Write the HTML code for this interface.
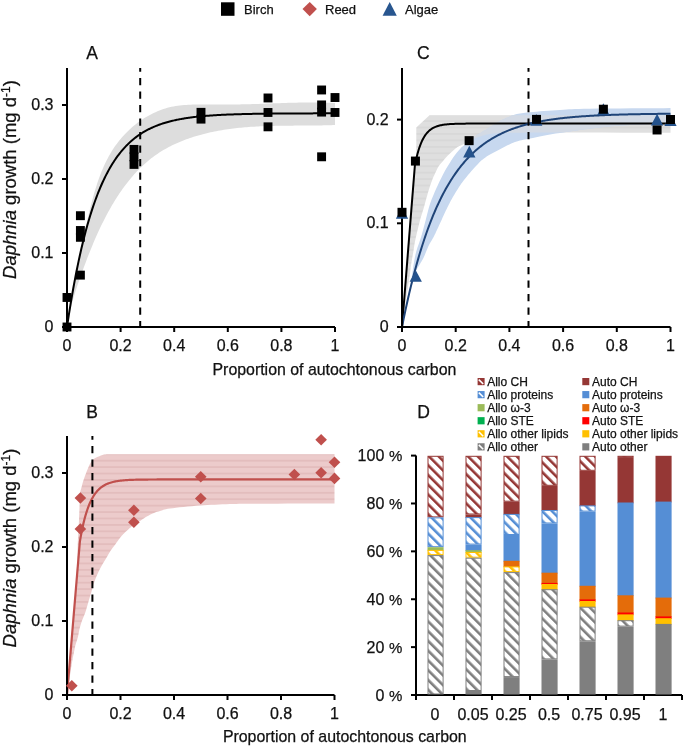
<!DOCTYPE html>
<html><head><meta charset="utf-8"><style>
html,body{margin:0;padding:0;background:#fff;}
svg{display:block;will-change:transform;}
text{font-family:"Liberation Sans", sans-serif;fill:#000;stroke:#111;stroke-width:0.25px;}
.tk{font-size:16px;fill:#111;}
.tkp{font-size:16px;fill:#111;}
.lg{font-size:13px;fill:#111;}
.lgd{font-size:12px;fill:#111;}
.pl{font-size:17.5px;fill:#111;}
.xt{font-size:15.9px;fill:#111;}
.yt{font-size:18.5px;fill:#111;}
</style></head><body>
<svg width="685" height="747" viewBox="0 0 685 747">
<defs>
<pattern id="hstripeG" patternUnits="userSpaceOnUse" width="10" height="6.45" y="4.95"><rect width="10" height="6.45" fill="#DFDFDF"/><rect y="-0.5" width="10" height="1" fill="#D3D3D3"/><rect y="5.95" width="10" height="1" fill="#D3D3D3"/></pattern>
<pattern id="hstripeR" patternUnits="userSpaceOnUse" width="10" height="6.42" y="4.88"><rect width="10" height="6.42" fill="#ECCBCB"/><rect y="-0.5" width="10" height="1" fill="#DDB2B2"/><rect y="5.92" width="10" height="1" fill="#DDB2B2"/></pattern>
<pattern id="hatchCH" patternUnits="userSpaceOnUse" width="6.9" height="6.9" patternTransform="rotate(-45)"><rect width="6.9" height="6.9" fill="#fff"/><rect width="2.6" height="6.9" fill="#953735"/></pattern>
<pattern id="hatchPR" patternUnits="userSpaceOnUse" width="6.9" height="6.9" patternTransform="rotate(-45)"><rect width="6.9" height="6.9" fill="#fff"/><rect width="2.6" height="6.9" fill="#558ED5"/></pattern>
<pattern id="hatchOL" patternUnits="userSpaceOnUse" width="6.9" height="6.9" patternTransform="rotate(-45)"><rect width="6.9" height="6.9" fill="#fff"/><rect width="2.6" height="6.9" fill="#FFC000"/></pattern>
<pattern id="hatchOT" patternUnits="userSpaceOnUse" width="6.9" height="6.9" patternTransform="rotate(-45)"><rect width="6.9" height="6.9" fill="#fff"/><rect width="2.6" height="6.9" fill="#7F7F7F"/></pattern>
</defs>
<rect width="685" height="747" fill="#fff"/>
<rect x="221" y="2.3" width="13.5" height="13.5" fill="#000"/>
<text x="244" y="13.8" class="lg">Birch</text>
<path d="M309.7,1.9 L316.9,9.1 L309.7,16.3 L302.5,9.1Z" fill="#C0504D"/>
<text x="325" y="13.8" class="lg">Reed</text>
<path d="M389.7,2.1 L396.8,15.8 L382.6,15.8Z" fill="#28568F"/>
<text x="405" y="13.8" class="lg">Algae</text>
<path d="M67,327 L67.3,324.87 L67.6,322.74 L67.9,320.62 L68.21,318.5 L68.52,316.38 L68.84,314.26 L69.16,312.15 L69.48,310.05 L69.81,307.94 L70.14,305.84 L70.48,303.74 L70.82,301.64 L71.16,299.55 L71.51,297.46 L71.86,295.37 L72.21,293.29 L72.57,291.2 L72.94,289.12 L73.3,287.04 L73.68,284.96 L74.05,282.89 L74.43,280.81 L74.81,278.74 L75.2,276.67 L75.59,274.6 L75.99,272.53 L76.39,270.46 L76.79,268.39 L77.2,266.33 L77.61,264.26 L78.02,262.2 L78.44,260.13 L78.86,258.07 L79.29,256.01 L79.72,253.94 L80.15,251.88 L80.59,249.82 L81.03,247.75 L81.48,245.69 L81.93,243.63 L82.38,241.56 L82.84,239.5 L83.3,237.43 L83.76,235.36 L84.23,233.3 L84.7,231.23 L85.18,229.16 L85.66,227.09 L86.14,225.02 L86.63,222.94 L87.12,220.87 L87.61,218.79 L88.11,216.71 L88.62,214.63 L89.12,212.55 L89.63,210.47 L90.15,208.38 L90.68,206.3 L91.21,204.22 L91.75,202.14 L92.3,200.06 L92.86,197.98 L93.43,195.91 L94.02,193.84 L94.62,191.78 L95.23,189.72 L95.86,187.67 L96.5,185.63 L97.17,183.6 L97.85,181.57 L98.55,179.55 L99.26,177.54 L100.01,175.55 L100.77,173.56 L101.55,171.59 L102.36,169.63 L103.2,167.68 L104.06,165.75 L104.94,163.83 L105.86,161.93 L106.8,160.04 L107.77,158.17 L108.77,156.32 L109.81,154.48 L110.87,152.67 L111.97,150.87 L113.1,149.1 L114.27,147.34 L115.48,145.61 L116.72,143.9 L117.99,142.22 L119.3,140.55 L120.64,138.92 L122.02,137.31 L123.43,135.72 L124.87,134.17 L126.34,132.65 L127.84,131.15 L129.38,129.69 L130.94,128.26 L132.53,126.86 L134.15,125.49 L135.79,124.16 L137.47,122.87 L139.17,121.61 L140.89,120.4 L142.64,119.22 L144.42,118.08 L146.21,116.98 L148.04,115.92 L149.88,114.9 L151.75,113.93 L153.63,113.01 L155.54,112.13 L157.47,111.29 L159.42,110.5 L161.39,109.77 L163.37,109.08 L165.38,108.44 L167.4,107.85 L169.43,107.31 L171.49,106.83 L173.55,106.4 L175.64,106.03 L177.73,105.71 L179.84,105.44 L181.96,105.21 L184.09,105.03 L186.22,104.88 L188.36,104.77 L190.51,104.68 L192.66,104.62 L194.81,104.57 L196.97,104.54 L199.12,104.52 L201.27,104.51 L203.42,104.51 L205.56,104.5 L207.7,104.5 L209.84,104.51 L211.98,104.51 L214.11,104.52 L216.25,104.52 L218.38,104.53 L220.5,104.53 L222.63,104.53 L224.76,104.53 L226.88,104.53 L229,104.52 L231.12,104.51 L233.24,104.49 L235.36,104.47 L237.48,104.44 L239.6,104.41 L241.72,104.37 L243.83,104.32 L245.95,104.27 L248.06,104.22 L250.18,104.16 L252.29,104.1 L254.41,104.04 L256.52,103.97 L258.63,103.9 L260.75,103.82 L262.86,103.75 L264.97,103.67 L267.09,103.6 L269.2,103.52 L271.31,103.44 L273.43,103.37 L275.54,103.29 L277.65,103.22 L279.77,103.14 L281.88,103.07 L283.99,103 L286.11,102.93 L288.22,102.87 L290.34,102.81 L292.46,102.75 L294.57,102.7 L296.69,102.65 L298.81,102.61 L300.93,102.57 L303.05,102.54 L305.17,102.51 L307.29,102.49 L309.42,102.48 L311.54,102.47 L313.67,102.47 L315.79,102.48 L317.92,102.5 L320.05,102.53 L322.18,102.57 L324.32,102.61 L326.45,102.67 L328.58,102.73 L330.72,102.81 L332.86,102.9 L335,103 L335,125 L333.07,125.07 L331.13,125.14 L329.2,125.2 L327.27,125.25 L325.34,125.3 L323.41,125.34 L321.49,125.38 L319.56,125.42 L317.63,125.45 L315.71,125.47 L313.78,125.49 L311.86,125.51 L309.94,125.53 L308.02,125.55 L306.1,125.56 L304.17,125.57 L302.26,125.58 L300.34,125.59 L298.42,125.6 L296.5,125.61 L294.58,125.62 L292.67,125.63 L290.75,125.64 L288.83,125.66 L286.92,125.67 L285.01,125.69 L283.09,125.71 L281.18,125.74 L279.26,125.77 L277.35,125.8 L275.44,125.83 L273.53,125.88 L271.62,125.92 L269.71,125.97 L267.79,126.03 L265.88,126.09 L263.97,126.16 L262.06,126.24 L260.15,126.33 L258.25,126.42 L256.34,126.52 L254.43,126.63 L252.52,126.75 L250.61,126.87 L248.7,127.01 L246.79,127.16 L244.88,127.32 L242.97,127.48 L241.07,127.66 L239.16,127.85 L237.25,128.06 L235.34,128.27 L233.43,128.5 L231.52,128.74 L229.62,129 L227.71,129.27 L225.8,129.55 L223.89,129.85 L221.98,130.16 L220.07,130.49 L218.16,130.83 L216.26,131.19 L214.35,131.57 L212.45,131.96 L210.55,132.37 L208.65,132.79 L206.76,133.24 L204.87,133.7 L202.99,134.18 L201.11,134.67 L199.24,135.19 L197.37,135.73 L195.51,136.28 L193.66,136.85 L191.81,137.45 L189.98,138.06 L188.15,138.69 L186.34,139.34 L184.53,140.02 L182.73,140.71 L180.95,141.43 L179.17,142.17 L177.41,142.93 L175.66,143.71 L173.93,144.52 L172.21,145.35 L170.5,146.2 L168.8,147.08 L167.13,147.97 L165.46,148.9 L163.82,149.84 L162.19,150.82 L160.57,151.81 L158.98,152.83 L157.4,153.88 L155.84,154.95 L154.31,156.05 L152.79,157.18 L151.28,158.33 L149.8,159.5 L148.34,160.7 L146.89,161.92 L145.46,163.16 L144.05,164.42 L142.66,165.71 L141.29,167.02 L139.93,168.35 L138.59,169.7 L137.27,171.06 L135.96,172.45 L134.67,173.86 L133.4,175.28 L132.14,176.72 L130.9,178.18 L129.68,179.66 L128.47,181.15 L127.28,182.66 L126.1,184.18 L124.94,185.72 L123.8,187.27 L122.67,188.83 L121.55,190.41 L120.45,192 L119.36,193.6 L118.29,195.21 L117.23,196.83 L116.18,198.46 L115.15,200.11 L114.14,201.76 L113.13,203.42 L112.14,205.09 L111.17,206.77 L110.2,208.45 L109.25,210.14 L108.31,211.84 L107.39,213.55 L106.48,215.25 L105.57,216.97 L104.69,218.68 L103.81,220.41 L102.94,222.13 L102.09,223.86 L101.24,225.59 L100.41,227.33 L99.59,229.07 L98.77,230.82 L97.97,232.56 L97.18,234.31 L96.39,236.07 L95.62,237.83 L94.85,239.59 L94.1,241.35 L93.35,243.12 L92.61,244.89 L91.87,246.66 L91.15,248.43 L90.43,250.21 L89.72,251.99 L89.01,253.77 L88.31,255.55 L87.62,257.34 L86.93,259.12 L86.25,260.91 L85.58,262.7 L84.91,264.5 L84.24,266.29 L83.58,268.08 L82.93,269.88 L82.27,271.68 L81.63,273.48 L80.98,275.28 L80.34,277.08 L79.71,278.88 L79.08,280.68 L78.45,282.49 L77.84,284.29 L77.23,286.1 L76.63,287.92 L76.03,289.73 L75.45,291.55 L74.88,293.37 L74.32,295.2 L73.77,297.03 L73.23,298.86 L72.7,300.7 L72.19,302.54 L71.69,304.39 L71.2,306.24 L70.73,308.1 L70.28,309.96 L69.84,311.83 L69.42,313.7 L69.01,315.58 L68.63,317.46 L68.26,319.36 L67.91,321.26 L67.59,323.16 L67.28,325.08 L67,327Z" fill="#DDDDDD"/>
<path d="M67,327 L67,327 L67.89,321.02 L68.79,315.21 L69.68,309.57 L70.57,304.08 L71.47,298.74 L72.36,293.55 L73.25,288.51 L74.15,283.61 L75.04,278.85 L75.93,274.22 L76.83,269.72 L77.72,265.34 L78.61,261.09 L79.51,256.95 L80.4,252.94 L81.29,249.03 L82.19,245.23 L83.08,241.54 L83.97,237.96 L84.87,234.47 L85.76,231.08 L86.65,227.79 L87.55,224.58 L88.44,221.47 L89.33,218.45 L90.23,215.5 L91.12,212.65 L92.01,209.87 L92.91,207.17 L93.8,204.54 L94.69,201.99 L95.59,199.51 L96.48,197.1 L97.37,194.75 L98.27,192.47 L99.16,190.26 L100.05,188.11 L100.95,186.01 L101.84,183.98 L102.73,182 L103.63,180.08 L104.52,178.21 L105.41,176.4 L106.31,174.63 L107.2,172.92 L108.09,171.25 L108.99,169.63 L109.88,168.05 L110.77,166.52 L111.67,165.03 L112.56,163.58 L113.45,162.18 L114.35,160.81 L115.24,159.48 L116.13,158.19 L117.03,156.93 L117.92,155.71 L118.81,154.53 L119.71,153.37 L120.6,152.25 L121.49,151.16 L122.39,150.1 L123.28,149.07 L124.17,148.07 L125.07,147.1 L125.96,146.15 L126.85,145.23 L127.75,144.34 L128.64,143.47 L129.53,142.63 L130.43,141.81 L131.32,141.01 L132.21,140.23 L133.11,139.48 L134,138.75 L134.89,138.04 L135.79,137.34 L136.68,136.67 L137.57,136.02 L138.47,135.38 L139.36,134.76 L140.25,134.16 L141.15,133.58 L142.04,133.01 L142.93,132.46 L143.83,131.92 L144.72,131.4 L145.61,130.9 L146.51,130.4 L147.4,129.93 L148.29,129.46 L149.19,129.01 L150.08,128.57 L150.97,128.14 L151.87,127.73 L152.76,127.32 L153.65,126.93 L154.55,126.55 L155.44,126.18 L156.33,125.82 L157.23,125.47 L158.12,125.12 L159.01,124.79 L159.91,124.47 L160.8,124.16 L161.69,123.86 L162.59,123.56 L163.48,123.27 L164.37,122.99 L165.27,122.72 L166.16,122.46 L167.05,122.2 L167.95,121.95 L168.84,121.71 L169.73,121.47 L170.63,121.25 L171.52,121.02 L172.41,120.81 L173.31,120.6 L174.2,120.39 L175.09,120.19 L175.99,120 L176.88,119.81 L177.77,119.63 L178.67,119.45 L179.56,119.28 L180.45,119.11 L181.35,118.95 L182.24,118.79 L183.13,118.64 L184.03,118.49 L184.92,118.34 L185.81,118.2 L186.71,118.06 L187.6,117.93 L188.49,117.8 L189.39,117.67 L190.28,117.55 L191.17,117.43 L192.07,117.32 L192.96,117.2 L193.85,117.09 L194.75,116.99 L195.64,116.88 L196.53,116.78 L197.43,116.69 L198.32,116.59 L199.21,116.5 L200.11,116.41 L201,116.32 L201.89,116.24 L202.79,116.15 L203.68,116.07 L204.57,116 L205.47,115.92 L206.36,115.85 L207.25,115.77 L208.15,115.71 L209.04,115.64 L209.93,115.57 L210.83,115.51 L211.72,115.45 L212.61,115.39 L213.51,115.33 L214.4,115.27 L215.29,115.21 L216.19,115.16 L217.08,115.11 L217.97,115.06 L218.87,115.01 L219.76,114.96 L220.65,114.91 L221.55,114.87 L222.44,114.82 L223.33,114.78 L224.23,114.74 L225.12,114.7 L226.01,114.66 L226.91,114.62 L227.8,114.58 L228.69,114.55 L229.59,114.51 L230.48,114.48 L231.37,114.44 L232.27,114.41 L233.16,114.38 L234.05,114.35 L234.95,114.32 L235.84,114.29 L236.73,114.26 L237.63,114.24 L238.52,114.21 L239.41,114.18 L240.31,114.16 L241.2,114.13 L242.09,114.11 L242.99,114.09 L243.88,114.07 L244.77,114.04 L245.67,114.02 L246.56,114 L247.45,113.98 L248.35,113.96 L249.24,113.94 L250.13,113.93 L251.03,113.91 L251.92,113.89 L252.81,113.87 L253.71,113.86 L254.6,113.84 L255.49,113.83 L256.39,113.81 L257.28,113.8 L258.17,113.78 L259.07,113.77 L259.96,113.75 L260.85,113.74 L261.75,113.73 L262.64,113.72 L263.53,113.7 L264.43,113.69 L265.32,113.68 L266.21,113.67 L267.11,113.66 L268,113.65 L268.89,113.64 L269.79,113.63 L270.68,113.62 L271.57,113.61 L272.47,113.6 L273.36,113.59 L274.25,113.58 L275.15,113.58 L276.04,113.57 L276.93,113.56 L277.83,113.55 L278.72,113.55 L279.61,113.54 L280.51,113.53 L281.4,113.52 L282.29,113.52 L283.19,113.51 L284.08,113.5 L284.97,113.5 L285.87,113.49 L286.76,113.49 L287.65,113.48 L288.55,113.48 L289.44,113.47 L290.33,113.47 L291.23,113.46 L292.12,113.46 L293.01,113.45 L293.91,113.45 L294.8,113.44 L295.69,113.44 L296.59,113.43 L297.48,113.43 L298.37,113.43 L299.27,113.42 L300.16,113.42 L301.05,113.41 L301.95,113.41 L302.84,113.41 L303.73,113.4 L304.63,113.4 L305.52,113.4 L306.41,113.39 L307.31,113.39 L308.2,113.39 L309.09,113.39 L309.99,113.38 L310.88,113.38 L311.77,113.38 L312.67,113.38 L313.56,113.37 L314.45,113.37 L315.35,113.37 L316.24,113.37 L317.13,113.36 L318.03,113.36 L318.92,113.36 L319.81,113.36 L320.71,113.36 L321.6,113.35 L322.49,113.35 L323.39,113.35 L324.28,113.35 L325.17,113.35 L326.07,113.35 L326.96,113.34 L327.85,113.34 L328.75,113.34 L329.64,113.34 L330.53,113.34 L331.43,113.34 L332.32,113.33 L333.21,113.33 L334.11,113.33 L335,113.33" fill="none" stroke="#000" stroke-width="2"/>
<line x1="140.2" y1="68" x2="140.2" y2="327" stroke="#000" stroke-width="2" stroke-dasharray="7.2 6.3" stroke-dashoffset="3.4"/>
<path d="M67,68 L67,327 L335,327" fill="none" stroke="#000" stroke-width="2"/>
<line x1="62" y1="327" x2="67" y2="327" stroke="#000" stroke-width="2"/>
<line x1="62" y1="253" x2="67" y2="253" stroke="#000" stroke-width="2"/>
<line x1="62" y1="179" x2="67" y2="179" stroke="#000" stroke-width="2"/>
<line x1="62" y1="105" x2="67" y2="105" stroke="#000" stroke-width="2"/>
<line x1="67" y1="327" x2="67" y2="332" stroke="#000" stroke-width="2"/>
<line x1="120.6" y1="327" x2="120.6" y2="332" stroke="#000" stroke-width="2"/>
<line x1="174.2" y1="327" x2="174.2" y2="332" stroke="#000" stroke-width="2"/>
<line x1="227.8" y1="327" x2="227.8" y2="332" stroke="#000" stroke-width="2"/>
<line x1="281.4" y1="327" x2="281.4" y2="332" stroke="#000" stroke-width="2"/>
<line x1="335" y1="327" x2="335" y2="332" stroke="#000" stroke-width="2"/>
<text x="53.5" y="331.9" text-anchor="end" class="tk">0</text>
<text x="53.5" y="257.9" text-anchor="end" class="tk">0.1</text>
<text x="53.5" y="183.9" text-anchor="end" class="tk">0.2</text>
<text x="53.5" y="109.9" text-anchor="end" class="tk">0.3</text>
<text x="67" y="351" text-anchor="middle" class="tk">0</text>
<text x="120.6" y="351" text-anchor="middle" class="tk">0.2</text>
<text x="174.2" y="351" text-anchor="middle" class="tk">0.4</text>
<text x="227.8" y="351" text-anchor="middle" class="tk">0.6</text>
<text x="281.4" y="351" text-anchor="middle" class="tk">0.8</text>
<text x="335" y="351" text-anchor="middle" class="tk">1</text>
<rect x="62.55" y="322.55" width="8.9" height="8.9" fill="#000"/>
<rect x="62.55" y="293.02" width="8.9" height="8.9" fill="#000"/>
<rect x="75.95" y="270.68" width="8.9" height="8.9" fill="#000"/>
<rect x="75.95" y="232.86" width="8.9" height="8.9" fill="#000"/>
<rect x="75.95" y="226.05" width="8.9" height="8.9" fill="#000"/>
<rect x="75.95" y="211.25" width="8.9" height="8.9" fill="#000"/>
<rect x="129.55" y="159.97" width="8.9" height="8.9" fill="#000"/>
<rect x="129.55" y="152.35" width="8.9" height="8.9" fill="#000"/>
<rect x="129.55" y="144.95" width="8.9" height="8.9" fill="#000"/>
<rect x="196.55" y="114.68" width="8.9" height="8.9" fill="#000"/>
<rect x="196.55" y="107.88" width="8.9" height="8.9" fill="#000"/>
<rect x="263.55" y="122.38" width="8.9" height="8.9" fill="#000"/>
<rect x="263.55" y="108.02" width="8.9" height="8.9" fill="#000"/>
<rect x="263.55" y="93.52" width="8.9" height="8.9" fill="#000"/>
<rect x="317.15" y="152.35" width="8.9" height="8.9" fill="#000"/>
<rect x="317.15" y="107.65" width="8.9" height="8.9" fill="#000"/>
<rect x="317.15" y="100.48" width="8.9" height="8.9" fill="#000"/>
<rect x="317.15" y="85.53" width="8.9" height="8.9" fill="#000"/>
<rect x="330.55" y="108.02" width="8.9" height="8.9" fill="#000"/>
<rect x="330.55" y="93.08" width="8.9" height="8.9" fill="#000"/>
<text x="92" y="58.6" text-anchor="middle" class="pl">A</text>
<path d="M401.5,327 L414.4,162.4 L416.3,160 L416.3,127.5 L429.5,115.3 L670.5,115.3 L670.5,132.7 L658.91,132.69 L642.66,132.67 L623.25,132.64 L602.12,132.61 L580.77,132.59 L560.65,132.58 L543.24,132.58 L530,132.6 L520.86,132.63 L514.38,132.67 L510,132.72 L507.16,132.78 L505.3,132.86 L503.86,132.95 L502.28,133.06 L500,133.2 L497.41,133.34 L495.2,133.48 L493.28,133.62 L491.56,133.79 L489.97,134 L488.4,134.26 L486.77,134.59 L485,135 L483.07,135.52 L481.06,136.15 L479.02,136.86 L477,137.61 L475.04,138.38 L473.19,139.14 L471.49,139.86 L470,140.5 L468.72,141.09 L467.63,141.65 L466.67,142.2 L465.84,142.72 L465.08,143.22 L464.38,143.68 L463.7,144.11 L463,144.5 L462.33,144.83 L461.72,145.09 L461.16,145.3 L460.64,145.49 L460.14,145.68 L459.65,145.88 L459.14,146.11 L458.6,146.4 L458.04,146.74 L457.48,147.11 L456.92,147.5 L456.35,147.92 L455.78,148.35 L455.22,148.79 L454.66,149.24 L454.1,149.7 L453.54,150.17 L452.98,150.66 L452.41,151.16 L451.85,151.67 L451.29,152.19 L450.75,152.7 L450.22,153.21 L449.7,153.7 L449.2,154.17 L448.72,154.63 L448.26,155.08 L447.8,155.53 L447.35,155.97 L446.9,156.43 L446.45,156.91 L446,157.4 L445.55,157.92 L445.1,158.45 L444.65,159 L444.2,159.56 L443.75,160.12 L443.3,160.68 L442.85,161.25 L442.4,161.8 L441.94,162.33 L441.48,162.83 L441.02,163.32 L440.56,163.81 L440.09,164.33 L439.63,164.89 L439.16,165.51 L438.7,166.2 L438.23,166.99 L437.75,167.86 L437.27,168.8 L436.79,169.77 L436.32,170.77 L435.86,171.75 L435.42,172.7 L435,173.6 L434.61,174.42 L434.26,175.16 L433.93,175.86 L433.61,176.56 L433.28,177.29 L432.95,178.09 L432.59,178.98 L432.2,180 L431.78,181.13 L431.34,182.33 L430.89,183.6 L430.42,184.94 L429.93,186.37 L429.44,187.89 L428.92,189.49 L428.4,191.2 L427.85,193.07 L427.26,195.13 L426.66,197.33 L426.04,199.59 L425.43,201.86 L424.83,204.07 L424.25,206.17 L423.7,208.1 L423.2,209.8 L422.73,211.3 L422.28,212.69 L421.85,214.03 L421.42,215.38 L420.97,216.83 L420.5,218.45 L420,220.3 L419.44,222.46 L418.83,224.88 L418.19,227.48 L417.54,230.16 L416.91,232.85 L416.31,235.44 L415.77,237.85 L415.3,240 L414.92,241.87 L414.61,243.54 L414.36,245.06 L414.14,246.47 L413.94,247.83 L413.74,249.17 L413.54,250.55 L413.3,252 L413.04,253.51 L412.77,255.02 L412.5,256.53 L412.22,258.05 L411.96,259.57 L411.69,261.08 L411.44,262.59 L411.2,264.1 L411,265.49 L410.84,266.71 L410.7,267.86 L410.56,269.05 L410.4,270.37 L410.2,271.91 L409.94,273.79 L409.6,276.1 L409.16,278.95 L408.62,282.3 L408.02,286 L407.39,289.93 L406.74,293.93 L406.11,297.86 L405.52,301.6 L405,305 L404.53,308.23 L404.07,311.5 L403.63,314.72 L403.21,317.81 L402.83,320.66 L402.5,323.21 L402.22,325.35 L402,327Z" fill="url(#hstripeG)"/>
<clipPath id="clipBlue"><path d="M402,327 L402.23,325.85 L402.54,324.33 L402.91,322.52 L403.31,320.5 L403.74,318.36 L404.18,316.17 L404.6,314.03 L405,312 L405.38,310.01 L405.76,307.95 L406.15,305.85 L406.53,303.75 L406.91,301.68 L407.29,299.67 L407.65,297.77 L408,296 L408.33,294.45 L408.64,293.13 L408.94,291.94 L409.24,290.81 L409.53,289.63 L409.84,288.33 L410.16,286.81 L410.5,285 L410.87,282.8 L411.27,280.26 L411.68,277.5 L412.11,274.62 L412.53,271.73 L412.94,268.94 L413.33,266.36 L413.7,264.1 L414.03,262.17 L414.32,260.45 L414.59,258.91 L414.85,257.49 L415.12,256.14 L415.41,254.81 L415.73,253.45 L416.1,252 L416.53,250.47 L417.03,248.9 L417.55,247.31 L418.1,245.74 L418.65,244.2 L419.18,242.71 L419.67,241.3 L420.1,240 L420.47,238.86 L420.78,237.88 L421.06,237.01 L421.32,236.18 L421.58,235.33 L421.85,234.41 L422.15,233.35 L422.5,232.1 L422.9,230.64 L423.33,229.03 L423.79,227.3 L424.26,225.49 L424.75,223.63 L425.24,221.75 L425.72,219.9 L426.2,218.1 L426.66,216.34 L427.1,214.58 L427.54,212.82 L427.98,211.05 L428.44,209.28 L428.92,207.52 L429.44,205.76 L430,204 L430.6,202.26 L431.22,200.55 L431.87,198.84 L432.55,197.14 L433.26,195.41 L434,193.66 L434.78,191.86 L435.6,190 L436.48,188.03 L437.44,185.94 L438.45,183.77 L439.49,181.59 L440.52,179.44 L441.54,177.38 L442.51,175.45 L443.4,173.7 L444.22,172.15 L444.99,170.75 L445.72,169.47 L446.42,168.28 L447.11,167.15 L447.8,166.05 L448.49,164.94 L449.2,163.8 L449.92,162.64 L450.65,161.48 L451.37,160.34 L452.09,159.22 L452.82,158.12 L453.54,157.05 L454.27,156.01 L455,155 L455.75,154.01 L456.52,153.03 L457.31,152.06 L458.09,151.13 L458.86,150.25 L459.59,149.42 L460.28,148.67 L460.9,148 L461.4,147.48 L461.78,147.12 L462.08,146.87 L462.36,146.66 L462.68,146.43 L463.09,146.14 L463.64,145.71 L464.4,145.1 L465.37,144.28 L466.5,143.3 L467.75,142.21 L469.11,141.03 L470.54,139.82 L472,138.62 L473.46,137.46 L474.9,136.4 L476.33,135.42 L477.79,134.47 L479.28,133.56 L480.79,132.66 L482.33,131.76 L483.87,130.86 L485.43,129.94 L487,129 L488.57,128.02 L490.14,127 L491.72,125.97 L493.32,124.94 L494.94,123.91 L496.59,122.9 L498.27,121.93 L500,121 L501.78,120.1 L503.61,119.19 L505.48,118.3 L507.38,117.44 L509.29,116.63 L511.2,115.87 L513.11,115.19 L515,114.6 L516.77,114.12 L518.4,113.74 L519.97,113.44 L521.56,113.2 L523.28,112.99 L525.2,112.79 L527.41,112.56 L530,112.3 L533.03,112 L536.45,111.68 L540.15,111.35 L544.06,111.03 L548.09,110.72 L552.15,110.42 L556.15,110.14 L560,109.9 L563.4,109.69 L566.32,109.5 L569.03,109.34 L571.84,109.19 L575.05,109.05 L578.95,108.93 L583.83,108.81 L590,108.7 L598.2,108.59 L608.46,108.49 L620.03,108.4 L632.12,108.33 L643.99,108.25 L654.85,108.19 L663.94,108.14 L670.5,108.1 L670.5,123 L667.3,123.15 L662.98,123.35 L657.82,123.58 L652.12,123.84 L646.2,124.13 L640.34,124.42 L634.84,124.71 L630,125 L625.82,125.27 L622,125.52 L618.42,125.77 L614.97,126.04 L611.52,126.33 L607.96,126.66 L604.16,127.05 L600,127.5 L595.41,128.03 L590.47,128.64 L585.29,129.3 L580,130.01 L574.71,130.73 L569.53,131.47 L564.59,132.2 L560,132.9 L555.67,133.6 L551.45,134.34 L547.36,135.08 L543.44,135.82 L539.71,136.55 L536.21,137.24 L532.96,137.9 L530,138.5 L527.41,139.01 L525.2,139.44 L523.28,139.8 L521.56,140.15 L519.97,140.51 L518.4,140.91 L516.77,141.4 L515,142 L513.12,142.72 L511.24,143.52 L509.36,144.39 L507.48,145.31 L505.6,146.26 L503.72,147.24 L501.86,148.23 L500,149.2 L498.12,150.17 L496.2,151.17 L494.27,152.18 L492.35,153.21 L490.48,154.25 L488.67,155.3 L486.97,156.35 L485.4,157.4 L483.99,158.42 L482.75,159.4 L481.61,160.36 L480.54,161.34 L479.49,162.36 L478.41,163.46 L477.26,164.66 L476,166 L474.59,167.52 L473.05,169.23 L471.45,171.06 L469.82,172.95 L468.21,174.85 L466.67,176.7 L465.25,178.43 L464,180 L462.92,181.38 L461.99,182.63 L461.16,183.78 L460.41,184.88 L459.7,185.95 L459,187.03 L458.28,188.17 L457.5,189.4 L456.67,190.71 L455.83,192.07 L454.99,193.47 L454.14,194.89 L453.31,196.32 L452.48,197.76 L451.68,199.19 L450.9,200.6 L450.15,201.99 L449.43,203.38 L448.73,204.76 L448.04,206.14 L447.36,207.53 L446.68,208.93 L445.99,210.35 L445.3,211.8 L444.6,213.28 L443.9,214.78 L443.2,216.3 L442.51,217.84 L441.81,219.38 L441.11,220.93 L440.4,222.47 L439.7,224 L438.99,225.55 L438.27,227.13 L437.54,228.72 L436.81,230.31 L436.09,231.87 L435.38,233.39 L434.68,234.84 L434,236.2 L433.34,237.44 L432.7,238.58 L432.07,239.63 L431.45,240.64 L430.84,241.65 L430.23,242.69 L429.62,243.79 L429,245 L428.38,246.34 L427.75,247.78 L427.12,249.29 L426.49,250.83 L425.87,252.36 L425.27,253.84 L424.67,255.24 L424.1,256.5 L423.55,257.63 L423.02,258.67 L422.5,259.63 L421.99,260.53 L421.5,261.4 L421,262.25 L420.5,263.11 L420,264 L419.5,264.86 L418.99,265.64 L418.49,266.4 L417.99,267.16 L417.5,267.96 L417,268.84 L416.5,269.84 L416,271 L415.5,272.32 L415,273.78 L414.5,275.35 L414,277 L413.5,278.71 L413,280.47 L412.5,282.24 L412,284 L411.49,285.78 L410.98,287.61 L410.46,289.48 L409.94,291.38 L409.43,293.29 L408.93,295.2 L408.45,297.11 L408,299 L407.58,300.89 L407.18,302.8 L406.8,304.71 L406.44,306.62 L406.08,308.52 L405.73,310.39 L405.37,312.22 L405,314 L404.6,315.81 L404.18,317.7 L403.74,319.59 L403.31,321.44 L402.91,323.17 L402.54,324.71 L402.23,326.01 L402,327Z"/></clipPath>
<path d="M402,327 L402.23,325.85 L402.54,324.33 L402.91,322.52 L403.31,320.5 L403.74,318.36 L404.18,316.17 L404.6,314.03 L405,312 L405.38,310.01 L405.76,307.95 L406.15,305.85 L406.53,303.75 L406.91,301.68 L407.29,299.67 L407.65,297.77 L408,296 L408.33,294.45 L408.64,293.13 L408.94,291.94 L409.24,290.81 L409.53,289.63 L409.84,288.33 L410.16,286.81 L410.5,285 L410.87,282.8 L411.27,280.26 L411.68,277.5 L412.11,274.62 L412.53,271.73 L412.94,268.94 L413.33,266.36 L413.7,264.1 L414.03,262.17 L414.32,260.45 L414.59,258.91 L414.85,257.49 L415.12,256.14 L415.41,254.81 L415.73,253.45 L416.1,252 L416.53,250.47 L417.03,248.9 L417.55,247.31 L418.1,245.74 L418.65,244.2 L419.18,242.71 L419.67,241.3 L420.1,240 L420.47,238.86 L420.78,237.88 L421.06,237.01 L421.32,236.18 L421.58,235.33 L421.85,234.41 L422.15,233.35 L422.5,232.1 L422.9,230.64 L423.33,229.03 L423.79,227.3 L424.26,225.49 L424.75,223.63 L425.24,221.75 L425.72,219.9 L426.2,218.1 L426.66,216.34 L427.1,214.58 L427.54,212.82 L427.98,211.05 L428.44,209.28 L428.92,207.52 L429.44,205.76 L430,204 L430.6,202.26 L431.22,200.55 L431.87,198.84 L432.55,197.14 L433.26,195.41 L434,193.66 L434.78,191.86 L435.6,190 L436.48,188.03 L437.44,185.94 L438.45,183.77 L439.49,181.59 L440.52,179.44 L441.54,177.38 L442.51,175.45 L443.4,173.7 L444.22,172.15 L444.99,170.75 L445.72,169.47 L446.42,168.28 L447.11,167.15 L447.8,166.05 L448.49,164.94 L449.2,163.8 L449.92,162.64 L450.65,161.48 L451.37,160.34 L452.09,159.22 L452.82,158.12 L453.54,157.05 L454.27,156.01 L455,155 L455.75,154.01 L456.52,153.03 L457.31,152.06 L458.09,151.13 L458.86,150.25 L459.59,149.42 L460.28,148.67 L460.9,148 L461.4,147.48 L461.78,147.12 L462.08,146.87 L462.36,146.66 L462.68,146.43 L463.09,146.14 L463.64,145.71 L464.4,145.1 L465.37,144.28 L466.5,143.3 L467.75,142.21 L469.11,141.03 L470.54,139.82 L472,138.62 L473.46,137.46 L474.9,136.4 L476.33,135.42 L477.79,134.47 L479.28,133.56 L480.79,132.66 L482.33,131.76 L483.87,130.86 L485.43,129.94 L487,129 L488.57,128.02 L490.14,127 L491.72,125.97 L493.32,124.94 L494.94,123.91 L496.59,122.9 L498.27,121.93 L500,121 L501.78,120.1 L503.61,119.19 L505.48,118.3 L507.38,117.44 L509.29,116.63 L511.2,115.87 L513.11,115.19 L515,114.6 L516.77,114.12 L518.4,113.74 L519.97,113.44 L521.56,113.2 L523.28,112.99 L525.2,112.79 L527.41,112.56 L530,112.3 L533.03,112 L536.45,111.68 L540.15,111.35 L544.06,111.03 L548.09,110.72 L552.15,110.42 L556.15,110.14 L560,109.9 L563.4,109.69 L566.32,109.5 L569.03,109.34 L571.84,109.19 L575.05,109.05 L578.95,108.93 L583.83,108.81 L590,108.7 L598.2,108.59 L608.46,108.49 L620.03,108.4 L632.12,108.33 L643.99,108.25 L654.85,108.19 L663.94,108.14 L670.5,108.1 L670.5,123 L667.3,123.15 L662.98,123.35 L657.82,123.58 L652.12,123.84 L646.2,124.13 L640.34,124.42 L634.84,124.71 L630,125 L625.82,125.27 L622,125.52 L618.42,125.77 L614.97,126.04 L611.52,126.33 L607.96,126.66 L604.16,127.05 L600,127.5 L595.41,128.03 L590.47,128.64 L585.29,129.3 L580,130.01 L574.71,130.73 L569.53,131.47 L564.59,132.2 L560,132.9 L555.67,133.6 L551.45,134.34 L547.36,135.08 L543.44,135.82 L539.71,136.55 L536.21,137.24 L532.96,137.9 L530,138.5 L527.41,139.01 L525.2,139.44 L523.28,139.8 L521.56,140.15 L519.97,140.51 L518.4,140.91 L516.77,141.4 L515,142 L513.12,142.72 L511.24,143.52 L509.36,144.39 L507.48,145.31 L505.6,146.26 L503.72,147.24 L501.86,148.23 L500,149.2 L498.12,150.17 L496.2,151.17 L494.27,152.18 L492.35,153.21 L490.48,154.25 L488.67,155.3 L486.97,156.35 L485.4,157.4 L483.99,158.42 L482.75,159.4 L481.61,160.36 L480.54,161.34 L479.49,162.36 L478.41,163.46 L477.26,164.66 L476,166 L474.59,167.52 L473.05,169.23 L471.45,171.06 L469.82,172.95 L468.21,174.85 L466.67,176.7 L465.25,178.43 L464,180 L462.92,181.38 L461.99,182.63 L461.16,183.78 L460.41,184.88 L459.7,185.95 L459,187.03 L458.28,188.17 L457.5,189.4 L456.67,190.71 L455.83,192.07 L454.99,193.47 L454.14,194.89 L453.31,196.32 L452.48,197.76 L451.68,199.19 L450.9,200.6 L450.15,201.99 L449.43,203.38 L448.73,204.76 L448.04,206.14 L447.36,207.53 L446.68,208.93 L445.99,210.35 L445.3,211.8 L444.6,213.28 L443.9,214.78 L443.2,216.3 L442.51,217.84 L441.81,219.38 L441.11,220.93 L440.4,222.47 L439.7,224 L438.99,225.55 L438.27,227.13 L437.54,228.72 L436.81,230.31 L436.09,231.87 L435.38,233.39 L434.68,234.84 L434,236.2 L433.34,237.44 L432.7,238.58 L432.07,239.63 L431.45,240.64 L430.84,241.65 L430.23,242.69 L429.62,243.79 L429,245 L428.38,246.34 L427.75,247.78 L427.12,249.29 L426.49,250.83 L425.87,252.36 L425.27,253.84 L424.67,255.24 L424.1,256.5 L423.55,257.63 L423.02,258.67 L422.5,259.63 L421.99,260.53 L421.5,261.4 L421,262.25 L420.5,263.11 L420,264 L419.5,264.86 L418.99,265.64 L418.49,266.4 L417.99,267.16 L417.5,267.96 L417,268.84 L416.5,269.84 L416,271 L415.5,272.32 L415,273.78 L414.5,275.35 L414,277 L413.5,278.71 L413,280.47 L412.5,282.24 L412,284 L411.49,285.78 L410.98,287.61 L410.46,289.48 L409.94,291.38 L409.43,293.29 L408.93,295.2 L408.45,297.11 L408,299 L407.58,300.89 L407.18,302.8 L406.8,304.71 L406.44,306.62 L406.08,308.52 L405.73,310.39 L405.37,312.22 L405,314 L404.6,315.81 L404.18,317.7 L403.74,319.59 L403.31,321.44 L402.91,323.17 L402.54,324.71 L402.23,326.01 L402,327Z" fill="#C7D8EF"/>
<path d="M401.5,327 L414.4,162.4 L416.3,160 L416.3,127.5 L429.5,115.3 L670.5,115.3 L670.5,132.7 L658.91,132.69 L642.66,132.67 L623.25,132.64 L602.12,132.61 L580.77,132.59 L560.65,132.58 L543.24,132.58 L530,132.6 L520.86,132.63 L514.38,132.67 L510,132.72 L507.16,132.78 L505.3,132.86 L503.86,132.95 L502.28,133.06 L500,133.2 L497.41,133.34 L495.2,133.48 L493.28,133.62 L491.56,133.79 L489.97,134 L488.4,134.26 L486.77,134.59 L485,135 L483.07,135.52 L481.06,136.15 L479.02,136.86 L477,137.61 L475.04,138.38 L473.19,139.14 L471.49,139.86 L470,140.5 L468.72,141.09 L467.63,141.65 L466.67,142.2 L465.84,142.72 L465.08,143.22 L464.38,143.68 L463.7,144.11 L463,144.5 L462.33,144.83 L461.72,145.09 L461.16,145.3 L460.64,145.49 L460.14,145.68 L459.65,145.88 L459.14,146.11 L458.6,146.4 L458.04,146.74 L457.48,147.11 L456.92,147.5 L456.35,147.92 L455.78,148.35 L455.22,148.79 L454.66,149.24 L454.1,149.7 L453.54,150.17 L452.98,150.66 L452.41,151.16 L451.85,151.67 L451.29,152.19 L450.75,152.7 L450.22,153.21 L449.7,153.7 L449.2,154.17 L448.72,154.63 L448.26,155.08 L447.8,155.53 L447.35,155.97 L446.9,156.43 L446.45,156.91 L446,157.4 L445.55,157.92 L445.1,158.45 L444.65,159 L444.2,159.56 L443.75,160.12 L443.3,160.68 L442.85,161.25 L442.4,161.8 L441.94,162.33 L441.48,162.83 L441.02,163.32 L440.56,163.81 L440.09,164.33 L439.63,164.89 L439.16,165.51 L438.7,166.2 L438.23,166.99 L437.75,167.86 L437.27,168.8 L436.79,169.77 L436.32,170.77 L435.86,171.75 L435.42,172.7 L435,173.6 L434.61,174.42 L434.26,175.16 L433.93,175.86 L433.61,176.56 L433.28,177.29 L432.95,178.09 L432.59,178.98 L432.2,180 L431.78,181.13 L431.34,182.33 L430.89,183.6 L430.42,184.94 L429.93,186.37 L429.44,187.89 L428.92,189.49 L428.4,191.2 L427.85,193.07 L427.26,195.13 L426.66,197.33 L426.04,199.59 L425.43,201.86 L424.83,204.07 L424.25,206.17 L423.7,208.1 L423.2,209.8 L422.73,211.3 L422.28,212.69 L421.85,214.03 L421.42,215.38 L420.97,216.83 L420.5,218.45 L420,220.3 L419.44,222.46 L418.83,224.88 L418.19,227.48 L417.54,230.16 L416.91,232.85 L416.31,235.44 L415.77,237.85 L415.3,240 L414.92,241.87 L414.61,243.54 L414.36,245.06 L414.14,246.47 L413.94,247.83 L413.74,249.17 L413.54,250.55 L413.3,252 L413.04,253.51 L412.77,255.02 L412.5,256.53 L412.22,258.05 L411.96,259.57 L411.69,261.08 L411.44,262.59 L411.2,264.1 L411,265.49 L410.84,266.71 L410.7,267.86 L410.56,269.05 L410.4,270.37 L410.2,271.91 L409.94,273.79 L409.6,276.1 L409.16,278.95 L408.62,282.3 L408.02,286 L407.39,289.93 L406.74,293.93 L406.11,297.86 L405.52,301.6 L405,305 L404.53,308.23 L404.07,311.5 L403.63,314.72 L403.21,317.81 L402.83,320.66 L402.5,323.21 L402.22,325.35 L402,327Z" fill="#D3DAE5" clip-path="url(#clipBlue)"/>
<path d="M402,327 L414.89,165.28 L415.74,161.13 L416.59,157.39 L417.44,154.03 L418.3,151 L419.15,148.27 L420,145.81 L420.85,143.59 L421.7,141.6 L422.56,139.81 L423.41,138.19 L424.26,136.73 L425.11,135.42 L425.96,134.24 L426.82,133.18 L427.67,132.22 L428.52,131.35 L429.37,130.58 L430.22,129.88 L431.08,129.25 L431.93,128.68 L432.78,128.17 L433.63,127.71 L434.48,127.29 L435.34,126.92 L436.19,126.59 L437.04,126.28 L437.89,126.01 L438.75,125.76 L439.6,125.54 L440.45,125.34 L441.3,125.17 L442.15,125 L443.01,124.86 L443.86,124.73 L444.71,124.61 L445.56,124.5 L446.41,124.41 L447.27,124.32 L448.12,124.24 L448.97,124.17 L449.82,124.11 L450.67,124.05 L451.53,124 L452.38,123.96 L453.23,123.92 L454.08,123.88 L454.93,123.84 L455.79,123.81 L456.64,123.79 L457.49,123.76 L458.34,123.74 L459.19,123.72 L460.05,123.7 L460.9,123.69 L461.75,123.67 L462.6,123.66 L463.45,123.65 L464.31,123.64 L465.16,123.63 L466.01,123.62 L466.86,123.61 L467.71,123.6 L468.57,123.6 L469.42,123.59 L470.27,123.59 L471.12,123.58 L471.97,123.58 L472.83,123.57 L473.68,123.57 L474.53,123.57 L475.38,123.57 L476.23,123.56 L477.09,123.56 L477.94,123.56 L478.79,123.56 L479.64,123.56 L480.5,123.55 L481.35,123.55 L482.2,123.55 L483.05,123.55 L483.9,123.55 L484.76,123.55 L485.61,123.55 L486.46,123.55 L487.31,123.55 L488.16,123.55 L489.02,123.55 L489.87,123.54 L490.72,123.54 L491.57,123.54 L492.42,123.54 L493.28,123.54 L494.13,123.54 L494.98,123.54 L495.83,123.54 L496.68,123.54 L497.54,123.54 L498.39,123.54 L499.24,123.54 L500.09,123.54 L500.94,123.54 L501.8,123.54 L502.65,123.54 L503.5,123.54 L504.35,123.54 L505.2,123.54 L506.06,123.54 L506.91,123.54 L507.76,123.54 L508.61,123.54 L509.46,123.54 L510.32,123.54 L511.17,123.54 L512.02,123.54 L512.87,123.54 L513.72,123.54 L514.58,123.54 L515.43,123.54 L516.28,123.54 L517.13,123.54 L517.98,123.54 L518.84,123.54 L519.69,123.54 L520.54,123.54 L521.39,123.54 L522.25,123.54 L523.1,123.54 L523.95,123.54 L524.8,123.54 L525.65,123.54 L526.51,123.54 L527.36,123.54 L528.21,123.54 L529.06,123.54 L529.91,123.54 L530.77,123.54 L531.62,123.54 L532.47,123.54 L533.32,123.54 L534.17,123.54 L535.03,123.54 L535.88,123.54 L536.73,123.54 L537.58,123.54 L538.43,123.54 L539.29,123.54 L540.14,123.54 L540.99,123.54 L541.84,123.54 L542.69,123.54 L543.55,123.54 L544.4,123.54 L545.25,123.54 L546.1,123.54 L546.95,123.54 L547.81,123.54 L548.66,123.54 L549.51,123.54 L550.36,123.54 L551.21,123.54 L552.07,123.54 L552.92,123.54 L553.77,123.54 L554.62,123.54 L555.47,123.54 L556.33,123.54 L557.18,123.54 L558.03,123.54 L558.88,123.54 L559.73,123.54 L560.59,123.54 L561.44,123.54 L562.29,123.54 L563.14,123.54 L564,123.54 L564.85,123.54 L565.7,123.54 L566.55,123.54 L567.4,123.54 L568.26,123.54 L569.11,123.54 L569.96,123.54 L570.81,123.54 L571.66,123.54 L572.52,123.54 L573.37,123.54 L574.22,123.54 L575.07,123.54 L575.92,123.54 L576.78,123.54 L577.63,123.54 L578.48,123.54 L579.33,123.54 L580.18,123.54 L581.04,123.54 L581.89,123.54 L582.74,123.54 L583.59,123.54 L584.44,123.54 L585.3,123.54 L586.15,123.54 L587,123.54 L587.85,123.54 L588.7,123.54 L589.56,123.54 L590.41,123.54 L591.26,123.54 L592.11,123.54 L592.96,123.54 L593.82,123.54 L594.67,123.54 L595.52,123.54 L596.37,123.54 L597.22,123.54 L598.08,123.54 L598.93,123.54 L599.78,123.54 L600.63,123.54 L601.48,123.54 L602.34,123.54 L603.19,123.54 L604.04,123.54 L604.89,123.54 L605.74,123.54 L606.6,123.54 L607.45,123.54 L608.3,123.54 L609.15,123.54 L610.01,123.54 L610.86,123.54 L611.71,123.54 L612.56,123.54 L613.41,123.54 L614.27,123.54 L615.12,123.54 L615.97,123.54 L616.82,123.54 L617.67,123.54 L618.53,123.54 L619.38,123.54 L620.23,123.54 L621.08,123.54 L621.93,123.54 L622.79,123.54 L623.64,123.54 L624.49,123.54 L625.34,123.54 L626.19,123.54 L627.05,123.54 L627.9,123.54 L628.75,123.54 L629.6,123.54 L630.45,123.54 L631.31,123.54 L632.16,123.54 L633.01,123.54 L633.86,123.54 L634.71,123.54 L635.57,123.54 L636.42,123.54 L637.27,123.54 L638.12,123.54 L638.97,123.54 L639.83,123.54 L640.68,123.54 L641.53,123.54 L642.38,123.54 L643.23,123.54 L644.09,123.54 L644.94,123.54 L645.79,123.54 L646.64,123.54 L647.49,123.54 L648.35,123.54 L649.2,123.54 L650.05,123.54 L650.9,123.54 L651.76,123.54 L652.61,123.54 L653.46,123.54 L654.31,123.54 L655.16,123.54 L656.02,123.54 L656.87,123.54 L657.72,123.54 L658.57,123.54 L659.42,123.54 L660.28,123.54 L661.13,123.54 L661.98,123.54 L662.83,123.54 L663.68,123.54 L664.54,123.54 L665.39,123.54 L666.24,123.54 L667.09,123.54 L667.94,123.54 L668.8,123.54 L669.65,123.54 L670.5,123.54" fill="none" stroke="#000" stroke-width="2"/>
<path d="M402,327 L402,327 L402.89,322.51 L403.79,318.12 L404.69,313.82 L405.58,309.61 L406.48,305.48 L407.37,301.45 L408.26,297.5 L409.16,293.63 L410.06,289.84 L410.95,286.13 L411.85,282.5 L412.74,278.95 L413.63,275.47 L414.53,272.07 L415.43,268.73 L416.32,265.47 L417.21,262.27 L418.11,259.14 L419,256.08 L419.9,253.08 L420.8,250.15 L421.69,247.28 L422.58,244.46 L423.48,241.71 L424.38,239.01 L425.27,236.37 L426.17,233.79 L427.06,231.26 L427.95,228.78 L428.85,226.36 L429.75,223.98 L430.64,221.66 L431.54,219.39 L432.43,217.16 L433.32,214.98 L434.22,212.84 L435.12,210.75 L436.01,208.71 L436.9,206.7 L437.8,204.74 L438.69,202.82 L439.59,200.95 L440.49,199.11 L441.38,197.3 L442.27,195.54 L443.17,193.82 L444.06,192.13 L444.96,190.47 L445.86,188.85 L446.75,187.27 L447.64,185.71 L448.54,184.19 L449.44,182.71 L450.33,181.25 L451.23,179.82 L452.12,178.43 L453.01,177.06 L453.91,175.72 L454.81,174.41 L455.7,173.13 L456.6,171.87 L457.49,170.65 L458.38,169.44 L459.28,168.26 L460.18,167.11 L461.07,165.98 L461.96,164.88 L462.86,163.8 L463.75,162.74 L464.65,161.7 L465.55,160.68 L466.44,159.69 L467.34,158.72 L468.23,157.76 L469.12,156.83 L470.02,155.92 L470.91,155.03 L471.81,154.15 L472.7,153.29 L473.6,152.46 L474.5,151.63 L475.39,150.83 L476.28,150.04 L477.18,149.27 L478.07,148.52 L478.97,147.78 L479.87,147.06 L480.76,146.35 L481.65,145.66 L482.55,144.98 L483.44,144.32 L484.34,143.67 L485.24,143.03 L486.13,142.41 L487.02,141.8 L487.92,141.2 L488.81,140.61 L489.71,140.04 L490.61,139.48 L491.5,138.93 L492.39,138.4 L493.29,137.87 L494.19,137.36 L495.08,136.85 L495.98,136.36 L496.87,135.88 L497.76,135.4 L498.66,134.94 L499.56,134.49 L500.45,134.05 L501.35,133.61 L502.24,133.19 L503.13,132.77 L504.03,132.36 L504.93,131.96 L505.82,131.57 L506.72,131.19 L507.61,130.82 L508.5,130.45 L509.4,130.09 L510.3,129.74 L511.19,129.4 L512.09,129.06 L512.98,128.73 L513.88,128.41 L514.77,128.09 L515.66,127.78 L516.56,127.48 L517.46,127.18 L518.35,126.89 L519.25,126.61 L520.14,126.33 L521.03,126.06 L521.93,125.79 L522.83,125.53 L523.72,125.28 L524.62,125.03 L525.51,124.78 L526.4,124.54 L527.3,124.31 L528.19,124.08 L529.09,123.85 L529.99,123.63 L530.88,123.42 L531.77,123.21 L532.67,123 L533.57,122.8 L534.46,122.6 L535.36,122.41 L536.25,122.22 L537.14,122.03 L538.04,121.85 L538.93,121.67 L539.83,121.5 L540.73,121.33 L541.62,121.16 L542.51,121 L543.41,120.84 L544.31,120.68 L545.2,120.53 L546.1,120.38 L546.99,120.23 L547.88,120.09 L548.78,119.94 L549.67,119.81 L550.57,119.67 L551.47,119.54 L552.36,119.41 L553.25,119.28 L554.15,119.16 L555.04,119.04 L555.94,118.92 L556.84,118.8 L557.73,118.69 L558.62,118.58 L559.52,118.47 L560.41,118.36 L561.31,118.26 L562.21,118.15 L563.1,118.05 L564,117.95 L564.89,117.86 L565.78,117.76 L566.68,117.67 L567.58,117.58 L568.47,117.49 L569.37,117.41 L570.26,117.32 L571.15,117.24 L572.05,117.16 L572.95,117.08 L573.84,117 L574.74,116.93 L575.63,116.85 L576.52,116.78 L577.42,116.71 L578.32,116.64 L579.21,116.57 L580.11,116.5 L581,116.44 L581.89,116.37 L582.79,116.31 L583.68,116.25 L584.58,116.19 L585.48,116.13 L586.37,116.07 L587.26,116.01 L588.16,115.96 L589.06,115.9 L589.95,115.85 L590.85,115.8 L591.74,115.75 L592.63,115.7 L593.53,115.65 L594.42,115.6 L595.32,115.55 L596.22,115.51 L597.11,115.46 L598,115.42 L598.9,115.38 L599.8,115.34 L600.69,115.29 L601.59,115.25 L602.48,115.21 L603.38,115.18 L604.27,115.14 L605.16,115.1 L606.06,115.07 L606.95,115.03 L607.85,114.99 L608.75,114.96 L609.64,114.93 L610.53,114.9 L611.43,114.86 L612.33,114.83 L613.22,114.8 L614.12,114.77 L615.01,114.74 L615.9,114.71 L616.8,114.69 L617.69,114.66 L618.59,114.63 L619.49,114.6 L620.38,114.58 L621.27,114.55 L622.17,114.53 L623.07,114.51 L623.96,114.48 L624.86,114.46 L625.75,114.44 L626.64,114.41 L627.54,114.39 L628.43,114.37 L629.33,114.35 L630.23,114.33 L631.12,114.31 L632.01,114.29 L632.91,114.27 L633.8,114.25 L634.7,114.23 L635.6,114.22 L636.49,114.2 L637.38,114.18 L638.28,114.16 L639.17,114.15 L640.07,114.13 L640.97,114.12 L641.86,114.1 L642.75,114.08 L643.65,114.07 L644.54,114.06 L645.44,114.04 L646.34,114.03 L647.23,114.01 L648.12,114 L649.02,113.99 L649.91,113.97 L650.81,113.96 L651.71,113.95 L652.6,113.94 L653.5,113.93 L654.39,113.91 L655.28,113.9 L656.18,113.89 L657.08,113.88 L657.97,113.87 L658.87,113.86 L659.76,113.85 L660.65,113.84 L661.55,113.83 L662.44,113.82 L663.34,113.81 L664.24,113.8 L665.13,113.79 L666.02,113.78 L666.92,113.78 L667.82,113.77 L668.71,113.76 L669.61,113.75 L670.5,113.74" fill="none" stroke="#1F4478" stroke-width="2"/>
<line x1="528.5" y1="68" x2="528.5" y2="327" stroke="#000" stroke-width="2" stroke-dasharray="7.2 6.3" stroke-dashoffset="3.4"/>
<path d="M402,68 L402,327 L670.5,327" fill="none" stroke="#000" stroke-width="2"/>
<line x1="397" y1="327" x2="402" y2="327" stroke="#000" stroke-width="2"/>
<line x1="397" y1="223.3" x2="402" y2="223.3" stroke="#000" stroke-width="2"/>
<line x1="397" y1="119.6" x2="402" y2="119.6" stroke="#000" stroke-width="2"/>
<line x1="402" y1="327" x2="402" y2="332" stroke="#000" stroke-width="2"/>
<line x1="455.7" y1="327" x2="455.7" y2="332" stroke="#000" stroke-width="2"/>
<line x1="509.4" y1="327" x2="509.4" y2="332" stroke="#000" stroke-width="2"/>
<line x1="563.1" y1="327" x2="563.1" y2="332" stroke="#000" stroke-width="2"/>
<line x1="616.8" y1="327" x2="616.8" y2="332" stroke="#000" stroke-width="2"/>
<line x1="670.5" y1="327" x2="670.5" y2="332" stroke="#000" stroke-width="2"/>
<text x="388.7" y="331.9" text-anchor="end" class="tk">0</text>
<text x="388.7" y="228.2" text-anchor="end" class="tk">0.1</text>
<text x="388.7" y="124.5" text-anchor="end" class="tk">0.2</text>
<text x="402" y="351" text-anchor="middle" class="tk">0</text>
<text x="455.7" y="351" text-anchor="middle" class="tk">0.2</text>
<text x="509.4" y="351" text-anchor="middle" class="tk">0.4</text>
<text x="563.1" y="351" text-anchor="middle" class="tk">0.6</text>
<text x="616.8" y="351" text-anchor="middle" class="tk">0.8</text>
<text x="670.5" y="351" text-anchor="middle" class="tk">1</text>
<path d="M402,207.23 L408.15,218.83 L395.85,218.83Z" fill="#24528C"/>
<path d="M415.75,270.18 L421.9,281.78 L409.6,281.78Z" fill="#24528C"/>
<path d="M469.31,145.84 L475.46,157.44 L463.16,157.44Z" fill="#24528C"/>
<path d="M536.25,114.11 L542.4,125.71 L530.1,125.71Z" fill="#24528C"/>
<path d="M603.38,103.33 L609.52,114.93 L597.23,114.93Z" fill="#24528C"/>
<path d="M657.08,113.8 L663.23,125.4 L650.93,125.4Z" fill="#24528C"/>
<path d="M670.5,114.42 L676.65,126.02 L664.35,126.02Z" fill="#24528C"/>
<rect x="397.5" y="207.81" width="9" height="9" fill="#000"/>
<rect x="410.93" y="156.58" width="9" height="9" fill="#000"/>
<rect x="464.62" y="136.15" width="9" height="9" fill="#000"/>
<rect x="532.02" y="114.89" width="9" height="9" fill="#000"/>
<rect x="598.88" y="104.73" width="9" height="9" fill="#000"/>
<rect x="652.58" y="125.47" width="9" height="9" fill="#000"/>
<rect x="666" y="115" width="9" height="9" fill="#000"/>
<text x="423.4" y="58.7" text-anchor="middle" class="pl">C</text>
<path d="M67,695 L67.23,692.3 L67.54,688.71 L67.91,684.44 L68.31,679.69 L68.74,674.66 L69.18,669.57 L69.6,664.61 L70,660 L70.38,655.57 L70.77,651.06 L71.17,646.52 L71.56,642 L71.95,637.54 L72.32,633.19 L72.67,628.99 L73,625 L73.3,621.21 L73.58,617.59 L73.85,614.11 L74.09,610.75 L74.33,607.48 L74.56,604.28 L74.78,601.13 L75,598 L75.22,594.88 L75.43,591.78 L75.63,588.73 L75.83,585.75 L76.01,582.86 L76.19,580.09 L76.35,577.46 L76.5,575 L76.64,572.76 L76.76,570.75 L76.86,568.91 L76.96,567.17 L77.05,565.47 L77.14,563.75 L77.22,561.95 L77.3,560 L77.37,557.92 L77.43,555.77 L77.49,553.58 L77.54,551.34 L77.59,549.09 L77.65,546.82 L77.72,544.55 L77.8,542.3 L77.9,540.03 L78.02,537.72 L78.16,535.38 L78.29,533.04 L78.43,530.73 L78.57,528.47 L78.69,526.29 L78.8,524.2 L78.89,522.23 L78.98,520.37 L79.05,518.59 L79.12,516.85 L79.19,515.13 L79.26,513.4 L79.33,511.64 L79.4,509.8 L79.47,507.83 L79.53,505.74 L79.59,503.58 L79.66,501.43 L79.72,499.33 L79.8,497.37 L79.89,495.61 L80,494.1 L80.12,492.9 L80.25,491.98 L80.39,491.25 L80.54,490.65 L80.7,490.11 L80.88,489.55 L81.08,488.9 L81.3,488.1 L81.54,487.16 L81.79,486.18 L82.07,485.14 L82.36,484.08 L82.66,482.98 L82.99,481.86 L83.34,480.73 L83.7,479.6 L84.1,478.43 L84.53,477.22 L84.98,475.97 L85.45,474.71 L85.93,473.46 L86.4,472.24 L86.86,471.08 L87.3,470 L87.72,468.98 L88.12,468 L88.51,467.06 L88.9,466.16 L89.29,465.31 L89.68,464.49 L90.08,463.72 L90.5,463 L90.9,462.34 L91.28,461.74 L91.64,461.19 L92.02,460.68 L92.43,460.2 L92.9,459.74 L93.45,459.27 L94.1,458.8 L94.88,458.31 L95.77,457.82 L96.75,457.33 L97.79,456.85 L98.84,456.4 L99.88,455.98 L100.88,455.61 L101.8,455.3 L102.54,455.05 L103.09,454.85 L103.54,454.7 L104.01,454.59 L104.58,454.5 L105.37,454.43 L106.48,454.36 L108,454.3 L108.75,454.24 L108.11,454.21 L107.07,454.19 L106.61,454.19 L107.69,454.19 L111.3,454.2 L118.41,454.2 L130,454.2 L148.23,454.2 L173.09,454.19 L202.31,454.19 L233.62,454.19 L264.77,454.2 L293.48,454.2 L317.48,454.2 L334.5,454.2 L334.5,503.5 L328.42,503.51 L320.01,503.53 L309.96,503.55 L298.97,503.57 L287.75,503.6 L277,503.63 L267.41,503.66 L259.7,503.7 L253.81,503.73 L249.07,503.76 L245.2,503.79 L241.94,503.83 L239.04,503.87 L236.22,503.92 L233.23,504 L229.8,504.1 L226.06,504.22 L222.33,504.34 L218.59,504.48 L214.85,504.64 L211.11,504.81 L207.38,505.01 L203.64,505.24 L199.9,505.5 L196.03,505.8 L191.96,506.15 L187.81,506.53 L183.71,506.93 L179.75,507.34 L176.08,507.75 L172.79,508.14 L170,508.5 L167.76,508.84 L165.98,509.18 L164.57,509.52 L163.44,509.84 L162.51,510.16 L161.68,510.46 L160.87,510.74 L160,511 L159.16,511.22 L158.47,511.39 L157.9,511.53 L157.39,511.66 L156.89,511.8 L156.36,511.97 L155.74,512.2 L155,512.5 L154.12,512.88 L153.14,513.31 L152.1,513.79 L151.01,514.31 L149.91,514.85 L148.83,515.41 L147.78,515.96 L146.8,516.5 L145.88,517.04 L145.01,517.59 L144.16,518.15 L143.32,518.72 L142.5,519.29 L141.68,519.86 L140.85,520.43 L140,521 L139.12,521.57 L138.2,522.15 L137.27,522.73 L136.34,523.31 L135.44,523.88 L134.56,524.44 L133.75,524.98 L133,525.5 L132.34,525.98 L131.77,526.43 L131.25,526.85 L130.76,527.26 L130.29,527.67 L129.8,528.11 L129.28,528.58 L128.7,529.1 L128.05,529.68 L127.35,530.3 L126.62,530.95 L125.88,531.62 L125.14,532.31 L124.42,532.99 L123.73,533.66 L123.1,534.3 L122.52,534.91 L121.99,535.51 L121.48,536.09 L121,536.68 L120.53,537.26 L120.06,537.85 L119.59,538.46 L119.1,539.1 L118.6,539.76 L118.1,540.45 L117.6,541.15 L117.1,541.87 L116.6,542.59 L116.1,543.3 L115.6,544.01 L115.1,544.7 L114.61,545.36 L114.12,545.98 L113.64,546.59 L113.15,547.2 L112.66,547.83 L112.16,548.49 L111.64,549.21 L111.1,550 L110.54,550.87 L109.96,551.81 L109.36,552.8 L108.75,553.83 L108.14,554.87 L107.52,555.93 L106.91,556.98 L106.3,558 L105.69,559.01 L105.08,560.02 L104.46,561.03 L103.85,562.05 L103.24,563.07 L102.64,564.08 L102.06,565.09 L101.5,566.1 L100.96,567.1 L100.43,568.11 L99.91,569.11 L99.4,570.11 L98.91,571.1 L98.43,572.1 L97.96,573.1 L97.5,574.1 L97.06,575.1 L96.62,576.1 L96.21,577.1 L95.8,578.09 L95.41,579.09 L95.03,580.09 L94.66,581.1 L94.3,582.1 L93.96,583.11 L93.64,584.12 L93.34,585.13 L93.05,586.15 L92.76,587.17 L92.48,588.18 L92.19,589.19 L91.9,590.2 L91.6,591.21 L91.29,592.24 L90.98,593.26 L90.67,594.28 L90.37,595.29 L90.07,596.29 L89.78,597.26 L89.5,598.2 L89.23,599.1 L88.98,599.96 L88.74,600.79 L88.5,601.6 L88.26,602.41 L88.02,603.24 L87.77,604.1 L87.5,605 L87.22,605.94 L86.95,606.91 L86.66,607.91 L86.38,608.92 L86.08,609.94 L85.77,610.96 L85.44,611.99 L85.1,613 L84.73,614.01 L84.34,615.02 L83.92,616.03 L83.5,617.05 L83.08,618.07 L82.66,619.08 L82.27,620.09 L81.9,621.1 L81.56,622.1 L81.23,623.11 L80.91,624.11 L80.6,625.11 L80.31,626.1 L80.03,627.1 L79.76,628.1 L79.5,629.1 L79.27,630.1 L79.06,631.1 L78.88,632.1 L78.71,633.09 L78.53,634.09 L78.34,635.09 L78.14,636.1 L77.9,637.1 L77.62,638.11 L77.32,639.12 L76.99,640.13 L76.65,641.15 L76.31,642.17 L75.98,643.18 L75.68,644.19 L75.4,645.2 L75.16,646.2 L74.94,647.21 L74.73,648.21 L74.54,649.21 L74.36,650.2 L74.18,651.2 L73.99,652.2 L73.8,653.2 L73.61,654.14 L73.42,654.99 L73.24,655.81 L73.06,656.65 L72.87,657.56 L72.67,658.58 L72.45,659.78 L72.2,661.2 L71.92,662.88 L71.62,664.78 L71.3,666.85 L70.96,669.04 L70.62,671.3 L70.27,673.58 L69.93,675.83 L69.6,678 L69.26,680.23 L68.89,682.63 L68.51,685.11 L68.14,687.55 L67.78,689.86 L67.47,691.94 L67.2,693.69 L67,695Z" fill="url(#hstripeR)"/>
<path d="M67,695 L79.84,541.8 L80.69,536.89 L81.54,532.37 L82.39,528.2 L83.24,524.36 L84.08,520.82 L84.93,517.57 L85.78,514.56 L86.63,511.8 L87.48,509.25 L88.33,506.9 L89.18,504.74 L90.03,502.75 L90.88,500.91 L91.72,499.22 L92.57,497.67 L93.42,496.23 L94.27,494.91 L95.12,493.69 L95.97,492.57 L96.82,491.53 L97.67,490.58 L98.52,489.71 L99.36,488.9 L100.21,488.15 L101.06,487.47 L101.91,486.83 L102.76,486.25 L103.61,485.72 L104.46,485.22 L105.31,484.77 L106.15,484.35 L107,483.96 L107.85,483.6 L108.7,483.28 L109.55,482.97 L110.4,482.7 L111.25,482.44 L112.1,482.2 L112.95,481.99 L113.79,481.78 L114.64,481.6 L115.49,481.43 L116.34,481.27 L117.19,481.13 L118.04,481 L118.89,480.87 L119.74,480.76 L120.59,480.66 L121.43,480.56 L122.28,480.47 L123.13,480.39 L123.98,480.32 L124.83,480.25 L125.68,480.18 L126.53,480.12 L127.38,480.07 L128.23,480.02 L129.07,479.97 L129.92,479.93 L130.77,479.89 L131.62,479.86 L132.47,479.82 L133.32,479.79 L134.17,479.77 L135.02,479.74 L135.87,479.72 L136.71,479.69 L137.56,479.67 L138.41,479.66 L139.26,479.64 L140.11,479.62 L140.96,479.61 L141.81,479.59 L142.66,479.58 L143.5,479.57 L144.35,479.56 L145.2,479.55 L146.05,479.54 L146.9,479.53 L147.75,479.53 L148.6,479.52 L149.45,479.51 L150.3,479.51 L151.14,479.5 L151.99,479.5 L152.84,479.49 L153.69,479.49 L154.54,479.48 L155.39,479.48 L156.24,479.48 L157.09,479.47 L157.94,479.47 L158.78,479.47 L159.63,479.47 L160.48,479.46 L161.33,479.46 L162.18,479.46 L163.03,479.46 L163.88,479.46 L164.73,479.46 L165.58,479.45 L166.42,479.45 L167.27,479.45 L168.12,479.45 L168.97,479.45 L169.82,479.45 L170.67,479.45 L171.52,479.45 L172.37,479.45 L173.22,479.45 L174.06,479.44 L174.91,479.44 L175.76,479.44 L176.61,479.44 L177.46,479.44 L178.31,479.44 L179.16,479.44 L180.01,479.44 L180.86,479.44 L181.7,479.44 L182.55,479.44 L183.4,479.44 L184.25,479.44 L185.1,479.44 L185.95,479.44 L186.8,479.44 L187.65,479.44 L188.49,479.44 L189.34,479.44 L190.19,479.44 L191.04,479.44 L191.89,479.44 L192.74,479.44 L193.59,479.44 L194.44,479.44 L195.29,479.44 L196.13,479.44 L196.98,479.44 L197.83,479.44 L198.68,479.44 L199.53,479.44 L200.38,479.44 L201.23,479.44 L202.08,479.44 L202.93,479.44 L203.77,479.44 L204.62,479.44 L205.47,479.44 L206.32,479.44 L207.17,479.44 L208.02,479.44 L208.87,479.44 L209.72,479.44 L210.57,479.44 L211.41,479.44 L212.26,479.44 L213.11,479.44 L213.96,479.44 L214.81,479.44 L215.66,479.44 L216.51,479.44 L217.36,479.44 L218.21,479.44 L219.05,479.44 L219.9,479.44 L220.75,479.44 L221.6,479.44 L222.45,479.44 L223.3,479.44 L224.15,479.44 L225,479.44 L225.85,479.44 L226.69,479.44 L227.54,479.44 L228.39,479.44 L229.24,479.44 L230.09,479.44 L230.94,479.44 L231.79,479.44 L232.64,479.44 L233.48,479.44 L234.33,479.44 L235.18,479.44 L236.03,479.44 L236.88,479.44 L237.73,479.44 L238.58,479.44 L239.43,479.44 L240.28,479.44 L241.12,479.44 L241.97,479.44 L242.82,479.44 L243.67,479.44 L244.52,479.44 L245.37,479.44 L246.22,479.44 L247.07,479.44 L247.92,479.44 L248.76,479.44 L249.61,479.44 L250.46,479.44 L251.31,479.44 L252.16,479.44 L253.01,479.44 L253.86,479.44 L254.71,479.44 L255.56,479.44 L256.4,479.44 L257.25,479.44 L258.1,479.44 L258.95,479.44 L259.8,479.44 L260.65,479.44 L261.5,479.44 L262.35,479.44 L263.2,479.44 L264.04,479.44 L264.89,479.44 L265.74,479.44 L266.59,479.44 L267.44,479.44 L268.29,479.44 L269.14,479.44 L269.99,479.44 L270.84,479.44 L271.68,479.44 L272.53,479.44 L273.38,479.44 L274.23,479.44 L275.08,479.44 L275.93,479.44 L276.78,479.44 L277.63,479.44 L278.47,479.44 L279.32,479.44 L280.17,479.44 L281.02,479.44 L281.87,479.44 L282.72,479.44 L283.57,479.44 L284.42,479.44 L285.27,479.44 L286.11,479.44 L286.96,479.44 L287.81,479.44 L288.66,479.44 L289.51,479.44 L290.36,479.44 L291.21,479.44 L292.06,479.44 L292.91,479.44 L293.75,479.44 L294.6,479.44 L295.45,479.44 L296.3,479.44 L297.15,479.44 L298,479.44 L298.85,479.44 L299.7,479.44 L300.55,479.44 L301.39,479.44 L302.24,479.44 L303.09,479.44 L303.94,479.44 L304.79,479.44 L305.64,479.44 L306.49,479.44 L307.34,479.44 L308.19,479.44 L309.03,479.44 L309.88,479.44 L310.73,479.44 L311.58,479.44 L312.43,479.44 L313.28,479.44 L314.13,479.44 L314.98,479.44 L315.82,479.44 L316.67,479.44 L317.52,479.44 L318.37,479.44 L319.22,479.44 L320.07,479.44 L320.92,479.44 L321.77,479.44 L322.62,479.44 L323.46,479.44 L324.31,479.44 L325.16,479.44 L326.01,479.44 L326.86,479.44 L327.71,479.44 L328.56,479.44 L329.41,479.44 L330.26,479.44 L331.1,479.44 L331.95,479.44 L332.8,479.44 L333.65,479.44 L334.5,479.44" fill="none" stroke="#C0504D" stroke-width="2.2"/>
<line x1="92.4" y1="436" x2="92.4" y2="695" stroke="#000" stroke-width="2" stroke-dasharray="7.2 6.3" stroke-dashoffset="3.4"/>
<path d="M67,436 L67,695 L334.5,695" fill="none" stroke="#000" stroke-width="2"/>
<line x1="62" y1="695" x2="67" y2="695" stroke="#000" stroke-width="2"/>
<line x1="62" y1="621" x2="67" y2="621" stroke="#000" stroke-width="2"/>
<line x1="62" y1="547" x2="67" y2="547" stroke="#000" stroke-width="2"/>
<line x1="62" y1="473" x2="67" y2="473" stroke="#000" stroke-width="2"/>
<line x1="67" y1="695" x2="67" y2="700" stroke="#000" stroke-width="2"/>
<line x1="120.5" y1="695" x2="120.5" y2="700" stroke="#000" stroke-width="2"/>
<line x1="174" y1="695" x2="174" y2="700" stroke="#000" stroke-width="2"/>
<line x1="227.5" y1="695" x2="227.5" y2="700" stroke="#000" stroke-width="2"/>
<line x1="281" y1="695" x2="281" y2="700" stroke="#000" stroke-width="2"/>
<line x1="334.5" y1="695" x2="334.5" y2="700" stroke="#000" stroke-width="2"/>
<text x="53.5" y="699.9" text-anchor="end" class="tk">0</text>
<text x="53.5" y="625.9" text-anchor="end" class="tk">0.1</text>
<text x="53.5" y="551.9" text-anchor="end" class="tk">0.2</text>
<text x="53.5" y="477.9" text-anchor="end" class="tk">0.3</text>
<text x="67" y="719" text-anchor="middle" class="tk">0</text>
<text x="120.5" y="719" text-anchor="middle" class="tk">0.2</text>
<text x="174" y="719" text-anchor="middle" class="tk">0.4</text>
<text x="227.5" y="719" text-anchor="middle" class="tk">0.6</text>
<text x="281" y="719" text-anchor="middle" class="tk">0.8</text>
<text x="334.5" y="719" text-anchor="middle" class="tk">1</text>
<path d="M71.81,680.02 L77.61,685.82 L71.81,691.62 L66.02,685.82Z" fill="#C0504D"/>
<path d="M80.38,492.21 L86.17,498.01 L80.38,503.81 L74.58,498.01Z" fill="#C0504D"/>
<path d="M80.38,523.22 L86.17,529.02 L80.38,534.82 L74.58,529.02Z" fill="#C0504D"/>
<path d="M133.88,504.5 L139.68,510.3 L133.88,516.1 L128.07,510.3Z" fill="#C0504D"/>
<path d="M133.88,516.48 L139.68,522.28 L133.88,528.08 L128.07,522.28Z" fill="#C0504D"/>
<path d="M200.75,470.9 L206.55,476.7 L200.75,482.5 L194.95,476.7Z" fill="#C0504D"/>
<path d="M200.75,492.73 L206.55,498.53 L200.75,504.33 L194.95,498.53Z" fill="#C0504D"/>
<path d="M294.38,468.68 L300.18,474.48 L294.38,480.28 L288.57,474.48Z" fill="#C0504D"/>
<path d="M321.12,433.9 L326.93,439.7 L321.12,445.5 L315.32,439.7Z" fill="#C0504D"/>
<path d="M321.12,466.9 L326.93,472.7 L321.12,478.5 L315.32,472.7Z" fill="#C0504D"/>
<path d="M334.5,456.47 L340.3,462.27 L334.5,468.07 L328.7,462.27Z" fill="#C0504D"/>
<path d="M334.5,472.6 L340.3,478.4 L334.5,484.2 L328.7,478.4Z" fill="#C0504D"/>
<text x="92.2" y="417.7" text-anchor="middle" class="pl">B</text>
<path d="M416,455.6 L416,695 L682,695" fill="none" stroke="#000" stroke-width="2"/>
<line x1="411" y1="695" x2="416" y2="695" stroke="#000" stroke-width="2"/>
<text x="384.3" y="700.5" text-anchor="end" class="tkp">0</text>
<text x="388.9" y="700.5" class="tkp" style="font-size:15px">%</text>
<line x1="411" y1="647.12" x2="416" y2="647.12" stroke="#000" stroke-width="2"/>
<text x="384.3" y="652.62" text-anchor="end" class="tkp">20</text>
<text x="388.9" y="652.62" class="tkp" style="font-size:15px">%</text>
<line x1="411" y1="599.24" x2="416" y2="599.24" stroke="#000" stroke-width="2"/>
<text x="384.3" y="604.74" text-anchor="end" class="tkp">40</text>
<text x="388.9" y="604.74" class="tkp" style="font-size:15px">%</text>
<line x1="411" y1="551.36" x2="416" y2="551.36" stroke="#000" stroke-width="2"/>
<text x="384.3" y="556.86" text-anchor="end" class="tkp">60</text>
<text x="388.9" y="556.86" class="tkp" style="font-size:15px">%</text>
<line x1="411" y1="503.48" x2="416" y2="503.48" stroke="#000" stroke-width="2"/>
<text x="384.3" y="508.98" text-anchor="end" class="tkp">80</text>
<text x="388.9" y="508.98" class="tkp" style="font-size:15px">%</text>
<line x1="411" y1="455.6" x2="416" y2="455.6" stroke="#000" stroke-width="2"/>
<text x="384.3" y="461.1" text-anchor="end" class="tkp">100</text>
<text x="388.9" y="461.1" class="tkp" style="font-size:15px">%</text>
<line x1="416" y1="695" x2="416" y2="700" stroke="#000" stroke-width="2"/>
<line x1="454" y1="695" x2="454" y2="700" stroke="#000" stroke-width="2"/>
<line x1="492" y1="695" x2="492" y2="700" stroke="#000" stroke-width="2"/>
<line x1="530" y1="695" x2="530" y2="700" stroke="#000" stroke-width="2"/>
<line x1="568" y1="695" x2="568" y2="700" stroke="#000" stroke-width="2"/>
<line x1="606" y1="695" x2="606" y2="700" stroke="#000" stroke-width="2"/>
<line x1="644" y1="695" x2="644" y2="700" stroke="#000" stroke-width="2"/>
<line x1="682" y1="695" x2="682" y2="700" stroke="#000" stroke-width="2"/>
<text x="435" y="719.5" text-anchor="middle" class="tk">0</text>
<text x="473" y="719.5" text-anchor="middle" class="tk">0.05</text>
<text x="511" y="719.5" text-anchor="middle" class="tk">0.25</text>
<text x="549" y="719.5" text-anchor="middle" class="tk">0.5</text>
<text x="587" y="719.5" text-anchor="middle" class="tk">0.75</text>
<text x="625" y="719.5" text-anchor="middle" class="tk">0.95</text>
<text x="663" y="719.5" text-anchor="middle" class="tk">1</text>
<rect x="428" y="456.3" width="15.1" height="60.6" fill="url(#hatchCH)" stroke="#953735" stroke-width="1"/>
<rect x="428" y="517.9" width="15.1" height="28.8" fill="url(#hatchPR)" stroke="#558ED5" stroke-width="1"/>
<rect x="427.5" y="547.2" width="16.1" height="3.5" fill="#9BBB59"/>
<rect x="428" y="550.4" width="15.1" height="4.2" fill="url(#hatchOL)" stroke="#FFC000" stroke-width="1"/>
<rect x="428" y="555.6" width="15.1" height="138.4" fill="url(#hatchOT)" stroke="#7F7F7F" stroke-width="1"/>
<rect x="466" y="456.3" width="15.1" height="57.7" fill="url(#hatchCH)" stroke="#953735" stroke-width="1"/>
<rect x="465.5" y="514.5" width="16.1" height="3.4" fill="#953735"/>
<rect x="466" y="517.6" width="15.1" height="26.5" fill="url(#hatchPR)" stroke="#558ED5" stroke-width="1"/>
<rect x="465.5" y="544.6" width="16.1" height="6.4" fill="#558ED5"/>
<rect x="465.5" y="550.2" width="16.1" height="2.6" fill="#9BBB59"/>
<rect x="466" y="552.5" width="15.1" height="4.7" fill="url(#hatchOL)" stroke="#FFC000" stroke-width="1"/>
<rect x="466" y="558.2" width="15.1" height="132.3" fill="url(#hatchOT)" stroke="#7F7F7F" stroke-width="1"/>
<rect x="465.5" y="691" width="16.1" height="3.5" fill="#7F7F7F"/>
<rect x="504" y="456.3" width="15.1" height="44.9" fill="url(#hatchCH)" stroke="#953735" stroke-width="1"/>
<rect x="503.5" y="501.7" width="16.1" height="13" fill="#953735"/>
<rect x="504" y="514.4" width="15.1" height="20.1" fill="url(#hatchPR)" stroke="#558ED5" stroke-width="1"/>
<rect x="503.5" y="535" width="16.1" height="26.6" fill="#558ED5"/>
<rect x="503.5" y="560.8" width="16.1" height="6.4" fill="#E46C0A"/>
<rect x="504" y="566.9" width="15.1" height="4.7" fill="url(#hatchOL)" stroke="#FFC000" stroke-width="1"/>
<rect x="504" y="572.6" width="15.1" height="104" fill="url(#hatchOT)" stroke="#7F7F7F" stroke-width="1"/>
<rect x="503.5" y="677.1" width="16.1" height="17.4" fill="#7F7F7F"/>
<rect x="542" y="456.3" width="15.1" height="29" fill="url(#hatchCH)" stroke="#953735" stroke-width="1"/>
<rect x="541.5" y="485.8" width="16.1" height="25" fill="#953735"/>
<rect x="542" y="510.5" width="15.1" height="12.5" fill="url(#hatchPR)" stroke="#558ED5" stroke-width="1"/>
<rect x="541.5" y="523.5" width="16.1" height="50" fill="#558ED5"/>
<rect x="541.5" y="572.7" width="16.1" height="11" fill="#E46C0A"/>
<rect x="541.5" y="582.9" width="16.1" height="1.9" fill="#FF0000"/>
<rect x="541.5" y="584" width="16.1" height="6" fill="#FFC000"/>
<rect x="542" y="589.7" width="15.1" height="69.2" fill="url(#hatchOT)" stroke="#7F7F7F" stroke-width="1"/>
<rect x="541.5" y="659.4" width="16.1" height="35.1" fill="#7F7F7F"/>
<rect x="580" y="456.3" width="15.1" height="14" fill="url(#hatchCH)" stroke="#953735" stroke-width="1"/>
<rect x="579.5" y="470.8" width="16.1" height="35.4" fill="#953735"/>
<rect x="580" y="505.9" width="15.1" height="5.2" fill="url(#hatchPR)" stroke="#558ED5" stroke-width="1"/>
<rect x="579.5" y="511.6" width="16.1" height="75" fill="#558ED5"/>
<rect x="579.5" y="585.8" width="16.1" height="14.4" fill="#E46C0A"/>
<rect x="579.5" y="599.4" width="16.1" height="2.4" fill="#FF0000"/>
<rect x="579.5" y="601" width="16.1" height="6.5" fill="#FFC000"/>
<rect x="580" y="607.2" width="15.1" height="33.6" fill="url(#hatchOT)" stroke="#7F7F7F" stroke-width="1"/>
<rect x="579.5" y="641.3" width="16.1" height="53.2" fill="#7F7F7F"/>
<rect x="618" y="456.3" width="15.1" height="1.1" fill="url(#hatchCH)" stroke="#953735" stroke-width="1"/>
<rect x="617.5" y="457.9" width="16.1" height="45.4" fill="#953735"/>
<rect x="617.5" y="502.5" width="16.1" height="93.6" fill="#558ED5"/>
<rect x="617.5" y="595.3" width="16.1" height="18" fill="#E46C0A"/>
<rect x="617.5" y="612.5" width="16.1" height="2.7" fill="#FF0000"/>
<rect x="617.5" y="614.4" width="16.1" height="6.6" fill="#FFC000"/>
<rect x="618" y="620.7" width="15.1" height="5.4" fill="url(#hatchOT)" stroke="#7F7F7F" stroke-width="1"/>
<rect x="617.5" y="626.6" width="16.1" height="67.9" fill="#7F7F7F"/>
<rect x="655.5" y="455.8" width="16.1" height="46.6" fill="#953735"/>
<rect x="655.5" y="501.6" width="16.1" height="96.8" fill="#558ED5"/>
<rect x="655.5" y="597.6" width="16.1" height="19.6" fill="#E46C0A"/>
<rect x="655.5" y="616.4" width="16.1" height="2.6" fill="#FF0000"/>
<rect x="655.5" y="618.2" width="16.1" height="6.5" fill="#FFC000"/>
<rect x="655.5" y="623.9" width="16.1" height="70.6" fill="#7F7F7F"/>
<text x="423.6" y="417.7" text-anchor="middle" class="pl">D</text>
<rect x="477.6" y="378" width="7" height="7.2" fill="#953735"/>
<path d="M478.8,379.6 L483.2,384" stroke="#fff" stroke-width="1.6"/>
<text x="487.2" y="385.6" class="lgd">Allo CH</text>
<rect x="477.6" y="391.05" width="7" height="7.2" fill="#558ED5"/>
<path d="M478.8,392.65 L483.2,397.05" stroke="#fff" stroke-width="1.6"/>
<text x="487.2" y="398.65" class="lgd">Allo proteins</text>
<rect x="477.6" y="404.1" width="7" height="7.2" fill="#9BBB59"/>
<text x="487.2" y="411.7" class="lgd">Allo ω-3</text>
<rect x="477.6" y="417.15" width="7" height="7.2" fill="#00B050"/>
<text x="487.2" y="424.75" class="lgd">Allo STE</text>
<rect x="477.6" y="430.2" width="7" height="7.2" fill="#FFC000"/>
<path d="M478.8,431.8 L483.2,436.2" stroke="#fff" stroke-width="1.6"/>
<text x="487.2" y="437.8" class="lgd">Allo other lipids</text>
<rect x="477.6" y="443.25" width="7" height="7.2" fill="#7F7F7F"/>
<path d="M478.8,444.85 L483.2,449.25" stroke="#fff" stroke-width="1.6"/>
<text x="487.2" y="450.85" class="lgd">Allo other</text>
<rect x="582.3" y="378" width="7" height="7.2" fill="#953735"/>
<text x="592" y="385.6" class="lgd">Auto CH</text>
<rect x="582.3" y="391.05" width="7" height="7.2" fill="#558ED5"/>
<text x="592" y="398.65" class="lgd">Auto proteins</text>
<rect x="582.3" y="404.1" width="7" height="7.2" fill="#E46C0A"/>
<text x="592" y="411.7" class="lgd">Auto ω-3</text>
<rect x="582.3" y="417.15" width="7" height="7.2" fill="#FF0000"/>
<text x="592" y="424.75" class="lgd">Auto STE</text>
<rect x="582.3" y="430.2" width="7" height="7.2" fill="#FFC000"/>
<text x="592" y="437.8" class="lgd">Auto other lipids</text>
<rect x="582.3" y="443.25" width="7" height="7.2" fill="#7F7F7F"/>
<text x="592" y="450.85" class="lgd">Auto other</text>
<text transform="translate(16.3,179.5) rotate(-90)" text-anchor="middle" class="yt"><tspan font-style="italic">Daphnia</tspan> growth (mg d<tspan dy="-6" font-size="12">-1</tspan><tspan dy="6">)</tspan></text>
<text transform="translate(16.3,548) rotate(-90)" text-anchor="middle" class="yt"><tspan font-style="italic">Daphnia</tspan> growth (mg d<tspan dy="-6" font-size="12">-1</tspan><tspan dy="6">)</tspan></text>
<text x="212.5" y="374.7" class="xt">Proportion of autochtonous carbon</text>
<text x="222.9" y="741.8" class="xt">Proportion of autochtonous carbon</text>
</svg>
</body></html>
